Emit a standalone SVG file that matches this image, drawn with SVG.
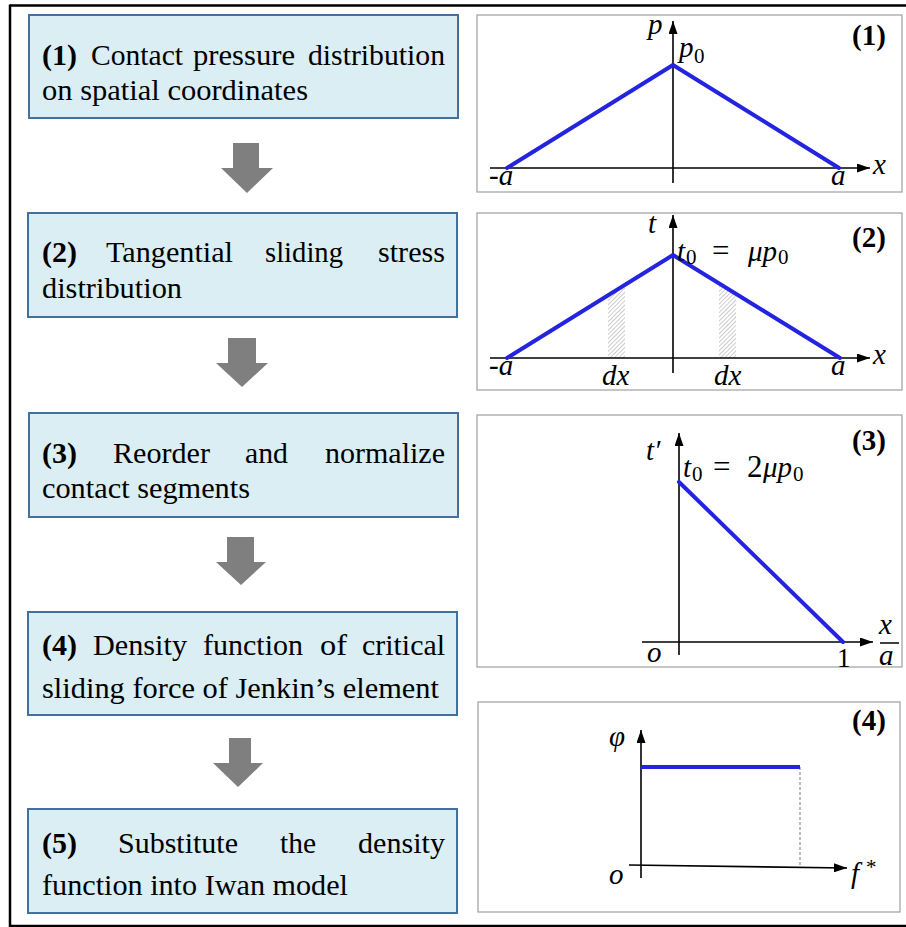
<svg xmlns="http://www.w3.org/2000/svg" width="906" height="927" viewBox="0 0 906 927">
<style>
.bx{fill:#DAEEF3;stroke:#41719C;stroke-width:2}
.t{font-family:"Liberation Serif","Times New Roman",serif;font-size:30px;fill:#000}
.b{font-weight:bold}
.ar{fill:#7F7F7F}
.pf{fill:#fff;stroke:#A6A6A6;stroke-width:1.3}
.ax{stroke:#000;stroke-width:1.6;fill:none}
.bl{stroke:#2323E0;stroke-width:4;fill:none;stroke-linecap:round;stroke-linejoin:round}
.mi{font-family:"Liberation Serif","Times New Roman",serif;font-style:italic;font-size:29px;fill:#000}
.mu{font-family:"Liberation Serif","Times New Roman",serif;font-size:21px;fill:#000}
.eq{font-family:"Liberation Serif","Times New Roman",serif;font-size:31px;fill:#000}
.tag{font-family:"Liberation Serif","Times New Roman",serif;font-weight:bold;font-size:29px;fill:#000}
.fr{stroke:#000;stroke-width:2.5;fill:none}
</style>
<defs>
<marker id="ah" viewBox="0 0 13 9" refX="13" refY="4.5" markerWidth="13" markerHeight="9" markerUnits="userSpaceOnUse" orient="auto">
<path d="M0,0 L13,4.5 L0,9 z" fill="#000"/>
</marker>
<pattern id="hatch" patternUnits="userSpaceOnUse" width="3" height="3" patternTransform="rotate(45)">
<line x1="0" y1="0" x2="0" y2="3" stroke="#9A9A9A" stroke-width="1"/>
</pattern>
</defs>

<!-- outer frame -->
<g id="frame">
<line class="fr" x1="10" y1="5.5" x2="906" y2="5.5"/>
<line class="fr" x1="10" y1="4.5" x2="10" y2="927"/>
<line class="fr" x1="10" y1="926" x2="906" y2="926"/>
</g>

<!-- connectors -->
<g id="connectors">
<polygon class="ar" points="233,143 259,143 259,168 273,168 247,193 221,168 233,168"/>
<polygon class="ar" points="228,338 256,338 256,363 268,363 242,387 216,363 228,363"/>
<polygon class="ar" points="227,537 254,537 254,562 266,562 241,585 216,562 227,562"/>
<polygon class="ar" points="229,738 251,738 251,763 263,763 238,787 213,763 229,763"/>
</g>

<g id="step1">
<rect class="bx" x="29" y="15" width="429" height="103"/>
<text class="t b" x="42" y="65" textLength="35" lengthAdjust="spacingAndGlyphs">(1)</text>
<text class="t" x="91" y="65" textLength="92" lengthAdjust="spacingAndGlyphs">Contact</text>
<text class="t" x="193" y="65" textLength="102" lengthAdjust="spacingAndGlyphs">pressure</text>
<text class="t" x="308" y="65" textLength="137" lengthAdjust="spacingAndGlyphs">distribution</text>
<text class="t" x="42" y="100" textLength="266" lengthAdjust="spacingAndGlyphs">on spatial coordinates</text>
</g>

<g id="step2">
<rect class="bx" x="28" y="213" width="429" height="104"/>
<text class="t b" x="42" y="262" textLength="35" lengthAdjust="spacingAndGlyphs">(2)</text>
<text class="t" x="106" y="262" textLength="127" lengthAdjust="spacingAndGlyphs">Tangential</text>
<text class="t" x="265" y="262" textLength="78" lengthAdjust="spacingAndGlyphs">sliding</text>
<text class="t" x="378" y="262" textLength="67" lengthAdjust="spacingAndGlyphs">stress</text>
<text class="t" x="42" y="298" textLength="140" lengthAdjust="spacingAndGlyphs">distribution</text>
</g>

<g id="step3">
<rect class="bx" x="29" y="413" width="429" height="104"/>
<text class="t b" x="42" y="463" textLength="35" lengthAdjust="spacingAndGlyphs">(3)</text>
<text class="t" x="113" y="463" textLength="97" lengthAdjust="spacingAndGlyphs">Reorder</text>
<text class="t" x="245" y="463" textLength="43" lengthAdjust="spacingAndGlyphs">and</text>
<text class="t" x="325" y="463" textLength="120" lengthAdjust="spacingAndGlyphs">normalize</text>
<text class="t" x="42" y="498" textLength="208" lengthAdjust="spacingAndGlyphs">contact segments</text>
</g>

<g id="step4">
<rect class="bx" x="28" y="612" width="429" height="103"/>
<text class="t b" x="42" y="655" textLength="35" lengthAdjust="spacingAndGlyphs">(4)</text>
<text class="t" x="93" y="655" textLength="94" lengthAdjust="spacingAndGlyphs">Density</text>
<text class="t" x="203" y="655" textLength="100" lengthAdjust="spacingAndGlyphs">function</text>
<text class="t" x="320" y="655" textLength="27" lengthAdjust="spacingAndGlyphs">of</text>
<text class="t" x="362" y="655" textLength="83" lengthAdjust="spacingAndGlyphs">critical</text>
<text class="t" x="42" y="698" textLength="397" lengthAdjust="spacingAndGlyphs">sliding force of Jenkin’s element</text>
</g>

<g id="step5">
<rect class="bx" x="28" y="809" width="429" height="104"/>
<text class="t b" x="42" y="853" textLength="35" lengthAdjust="spacingAndGlyphs">(5)</text>
<text class="t" x="118" y="853" textLength="120" lengthAdjust="spacingAndGlyphs">Substitute</text>
<text class="t" x="280" y="853" textLength="36" lengthAdjust="spacingAndGlyphs">the</text>
<text class="t" x="358" y="853" textLength="87" lengthAdjust="spacingAndGlyphs">density</text>
<text class="t" x="42" y="895" textLength="306" lengthAdjust="spacingAndGlyphs">function into Iwan model</text>
</g>

<!-- panel 1 -->
<g id="panel1">
<rect class="pf" x="477" y="15" width="425" height="177"/>
<line class="ax" x1="490" y1="168" x2="870" y2="168" marker-end="url(#ah)"/>
<line class="ax" x1="673" y1="183" x2="673" y2="21" marker-end="url(#ah)"/>
<polyline class="bl" points="507,168 673,65 839,168"/>
<text class="mi" x="648" y="34">p</text>
<text class="mi" x="679" y="57">p</text><text class="mu" x="694" y="63">0</text>
<text class="tag" x="852" y="45">(1)</text>
<text class="mi" x="489" y="185">-a</text>
<text class="mi" x="831" y="185">a</text>
<text class="mi" x="873" y="174">x</text>
</g>

<!-- panel 2 -->
<g id="panel2">
<rect class="pf" x="477" y="213" width="425" height="177"/>
<polygon points="608,358 608,295 625,285 625,358" fill="url(#hatch)"/>
<polygon points="719,358 719,283 736,294 736,358" fill="url(#hatch)"/>
<line class="ax" x1="490" y1="358" x2="870" y2="358" marker-end="url(#ah)"/>
<line class="ax" x1="673" y1="373" x2="673" y2="215" marker-end="url(#ah)"/>
<polyline class="bl" points="507,358 673,255 840,358"/>
<text class="mi" x="648" y="233">t</text>
<text class="mi" x="677" y="261">t</text><text class="mu" x="686" y="264">0</text>
<text class="eq" x="712" y="261">=</text>
<text class="mi" x="748" y="261">μp</text><text class="mu" x="778" y="264">0</text>
<text class="tag" x="852" y="247">(2)</text>
<text class="mi" x="489" y="375">-a</text>
<text class="mi" x="831" y="375">a</text>
<text class="mi" x="873" y="364">x</text>
<text class="mi" x="602" y="385">dx</text>
<text class="mi" x="714" y="385">dx</text>
</g>

<!-- panel 3 -->
<g id="panel3">
<rect class="pf" x="477" y="415" width="425" height="252"/>
<line class="ax" x1="642" y1="642" x2="873" y2="642" marker-end="url(#ah)"/>
<line class="ax" x1="679" y1="655" x2="679" y2="433" marker-end="url(#ah)"/>
<polyline class="bl" points="679,482 843,642"/>
<text class="mi" x="646" y="460">t′</text>
<text class="mi" x="683" y="477">t</text><text class="mu" x="692" y="481">0</text>
<text class="eq" x="713" y="477">=</text>
<text class="eq" x="747" y="477">2</text>
<text class="mi" x="763" y="477">μp</text><text class="mu" x="793" y="481">0</text>
<text class="tag" x="852" y="450">(3)</text>
<text class="mi" x="647" y="662">o</text>
<text class="eq" x="837" y="667" style="font-size:27px">1</text>
<text class="mi" x="879" y="634">x</text>
<line x1="880" y1="643" x2="899" y2="643" stroke="#000" stroke-width="1.5"/>
<text class="mi" x="879" y="665">a</text>
</g>

<!-- panel 4 -->
<g id="panel4">
<rect class="pf" x="478" y="702" width="422" height="210"/>
<line x1="800" y1="767" x2="800" y2="868" stroke="#777" stroke-width="1" stroke-dasharray="3,2"/>
<line class="ax" x1="629" y1="865" x2="847" y2="868" marker-end="url(#ah)"/>
<line class="ax" x1="641" y1="878" x2="641" y2="730" marker-end="url(#ah)"/>
<line x1="641" y1="767" x2="800" y2="767" stroke="#2323E0" stroke-width="4"/>
<text class="mi" x="609" y="746">φ</text>
<text class="tag" x="852" y="730">(4)</text>
<text class="mi" x="609" y="884">o</text>
<text class="mi" x="851" y="883">f</text><text class="mu" x="866" y="874">*</text>
</g>
</svg>
